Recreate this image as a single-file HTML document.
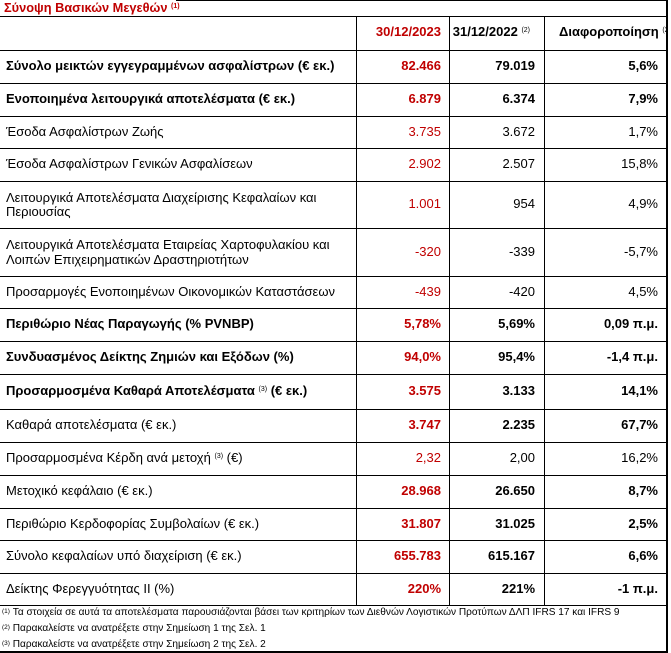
<!DOCTYPE html>
<html><head><meta charset="utf-8">
<style>
*{margin:0;padding:0;box-sizing:border-box}
html,body{width:671px;height:653px;background:#fff;overflow:hidden}
body{position:relative;font-family:"Liberation Sans",Arial,sans-serif;color:#000}
.h{position:absolute;left:0;width:668px;height:1px;background:#000}
.v{position:absolute;top:16px;height:590px;width:1px;background:#000}
.row{position:absolute;left:0;width:666px}
.c{position:absolute;top:0;bottom:0;display:flex;align-items:center;padding-bottom:1px;font-size:13px;line-height:14.5px;white-space:nowrap;font-style:normal}
.hdr .c{padding-bottom:3px}
.l{left:6px;width:348px}
.v2{right:225px;justify-content:flex-end;color:#c00000}
.v3{right:131px;justify-content:flex-end}
.v4{right:8px;justify-content:flex-end}
.b{font-weight:bold}
sup{font-size:7px;vertical-align:top;position:relative;top:-1px;font-weight:normal}
.fn{position:absolute;left:2px;font-size:10.1px;white-space:nowrap;line-height:12px}
.fn sup{font-size:6.5px;top:-1px}
</style></head><body>

<div style="position:absolute;left:4px;top:1px;font-size:12.8px;font-weight:bold;font-style:normal;color:#c00000;line-height:14px;white-space:nowrap">Σύνοψη Βασικών Μεγεθών <sup style="font-weight:bold">(1)</sup></div>

<div class="h" style="top:0;left:176px;width:492px"></div>
<div class="h" style="top:16px"></div>
<div class="h" style="top:50px"></div>
<div class="h" style="top:83px"></div>
<div class="h" style="top:116px"></div>
<div class="h" style="top:148px"></div>
<div class="h" style="top:181px"></div>
<div class="h" style="top:228px"></div>
<div class="h" style="top:276px"></div>
<div class="h" style="top:308px"></div>
<div class="h" style="top:341px"></div>
<div class="h" style="top:374px"></div>
<div class="h" style="top:409px"></div>
<div class="h" style="top:442px"></div>
<div class="h" style="top:475px"></div>
<div class="h" style="top:508px"></div>
<div class="h" style="top:540px"></div>
<div class="h" style="top:573px"></div>
<div class="h" style="top:605px"></div>
<div class="h" style="top:651px;height:2px"></div>

<div class="v" style="left:356px"></div>
<div class="v" style="left:449px"></div>
<div class="v" style="left:544px"></div>
<div style="position:absolute;left:666px;top:0;width:2px;height:653px;background:#000"></div>

<!-- header -->
<div class="row hdr" style="top:17px;height:33px">
  <div class="c v2 b">30/12/2023</div>
  <div class="c v3 b" style="right:136px">31/12/2022&nbsp;<sup>(2)</sup></div>
  <div class="c b" style="left:559px;width:107px;overflow:hidden">Διαφοροποίηση&nbsp;<sup>(2)</sup></div>
</div>

<div class="row" style="top:51px;height:32px">
  <div class="c l b">Σύνολο μεικτών εγγεγραμμένων ασφαλίστρων (€ εκ.)</div>
  <div class="c v2 b">82.466</div><div class="c v3 b">79.019</div><div class="c v4 b">5,6%</div>
</div>
<div class="row" style="top:84px;height:32px">
  <div class="c l b">Ενοποιημένα λειτουργικά αποτελέσματα (€ εκ.)</div>
  <div class="c v2 b">6.879</div><div class="c v3 b">6.374</div><div class="c v4 b">7,9%</div>
</div>
<div class="row" style="top:117px;height:31px">
  <div class="c l">Έσοδα Ασφαλίστρων Ζωής</div>
  <div class="c v2">3.735</div><div class="c v3">3.672</div><div class="c v4">1,7%</div>
</div>
<div class="row" style="top:149px;height:32px">
  <div class="c l">Έσοδα Ασφαλίστρων Γενικών Ασφαλίσεων</div>
  <div class="c v2">2.902</div><div class="c v3">2.507</div><div class="c v4">15,8%</div>
</div>
<div class="row" style="top:182px;height:46px">
  <div class="c l" style="padding-bottom:0">Λειτουργικά Αποτελέσματα Διαχείρισης Κεφαλαίων και<br>Περιουσίας</div>
  <div class="c v2">1.001</div><div class="c v3">954</div><div class="c v4">4,9%</div>
</div>
<div class="row" style="top:229px;height:47px">
  <div class="c l" style="padding-bottom:0">Λειτουργικά Αποτελέσματα Εταιρείας Χαρτοφυλακίου και<br>Λοιπών Επιχειρηματικών Δραστηριοτήτων</div>
  <div class="c v2">-320</div><div class="c v3">-339</div><div class="c v4">-5,7%</div>
</div>
<div class="row" style="top:277px;height:31px">
  <div class="c l">Προσαρμογές Ενοποιημένων Οικονομικών Καταστάσεων</div>
  <div class="c v2">-439</div><div class="c v3">-420</div><div class="c v4">4,5%</div>
</div>
<div class="row" style="top:309px;height:32px">
  <div class="c l b">Περιθώριο Νέας Παραγωγής (% PVNBP)</div>
  <div class="c v2 b">5,78%</div><div class="c v3 b">5,69%</div><div class="c v4 b">0,09 π.μ.</div>
</div>
<div class="row" style="top:342px;height:32px">
  <div class="c l b">Συνδυασμένος Δείκτης Ζημιών και Εξόδων (%)</div>
  <div class="c v2 b">94,0%</div><div class="c v3 b">95,4%</div><div class="c v4 b">-1,4 π.μ.</div>
</div>
<div class="row" style="top:375px;height:34px">
  <div class="c l b">Προσαρμοσμένα Καθαρά Αποτελέσματα&nbsp;<sup>(3)</sup>&nbsp;(€ εκ.)</div>
  <div class="c v2 b">3.575</div><div class="c v3 b">3.133</div><div class="c v4 b">14,1%</div>
</div>
<div class="row" style="top:410px;height:32px">
  <div class="c l">Καθαρά αποτελέσματα (€ εκ.)</div>
  <div class="c v2 b">3.747</div><div class="c v3 b">2.235</div><div class="c v4 b">67,7%</div>
</div>
<div class="row" style="top:443px;height:32px">
  <div class="c l">Προσαρμοσμένα Κέρδη ανά μετοχή&nbsp;<sup>(3)</sup>&nbsp;(€)</div>
  <div class="c v2">2,32</div><div class="c v3">2,00</div><div class="c v4">16,2%</div>
</div>
<div class="row" style="top:476px;height:32px">
  <div class="c l">Μετοχικό κεφάλαιο (€ εκ.)</div>
  <div class="c v2 b">28.968</div><div class="c v3 b">26.650</div><div class="c v4 b">8,7%</div>
</div>
<div class="row" style="top:509px;height:31px">
  <div class="c l">Περιθώριο Κερδοφορίας Συμβολαίων (€ εκ.)</div>
  <div class="c v2 b">31.807</div><div class="c v3 b">31.025</div><div class="c v4 b">2,5%</div>
</div>
<div class="row" style="top:541px;height:32px">
  <div class="c l">Σύνολο κεφαλαίων υπό διαχείριση (€ εκ.)</div>
  <div class="c v2 b">655.783</div><div class="c v3 b">615.167</div><div class="c v4 b">6,6%</div>
</div>
<div class="row" style="top:574px;height:31px">
  <div class="c l">Δείκτης Φερεγγυότητας II (%)</div>
  <div class="c v2 b">220%</div><div class="c v3 b">221%</div><div class="c v4 b">-1 π.μ.</div>
</div>

<div class="fn" style="top:607px"><sup>(1)</sup>&nbsp;Τα στοιχεία σε αυτά τα αποτελέσματα παρουσιάζονται βάσει των κριτηρίων των Διεθνών Λογιστικών Προτύπων ΔΛΠ IFRS 17 και IFRS 9</div>
<div class="fn" style="top:623px"><sup>(2)</sup>&nbsp;Παρακαλείστε να ανατρέξετε στην Σημείωση 1 της Σελ. 1</div>
<div class="fn" style="top:639px"><sup>(3)</sup>&nbsp;Παρακαλείστε να ανατρέξετε στην Σημείωση 2 της Σελ. 2</div>

</body></html>
